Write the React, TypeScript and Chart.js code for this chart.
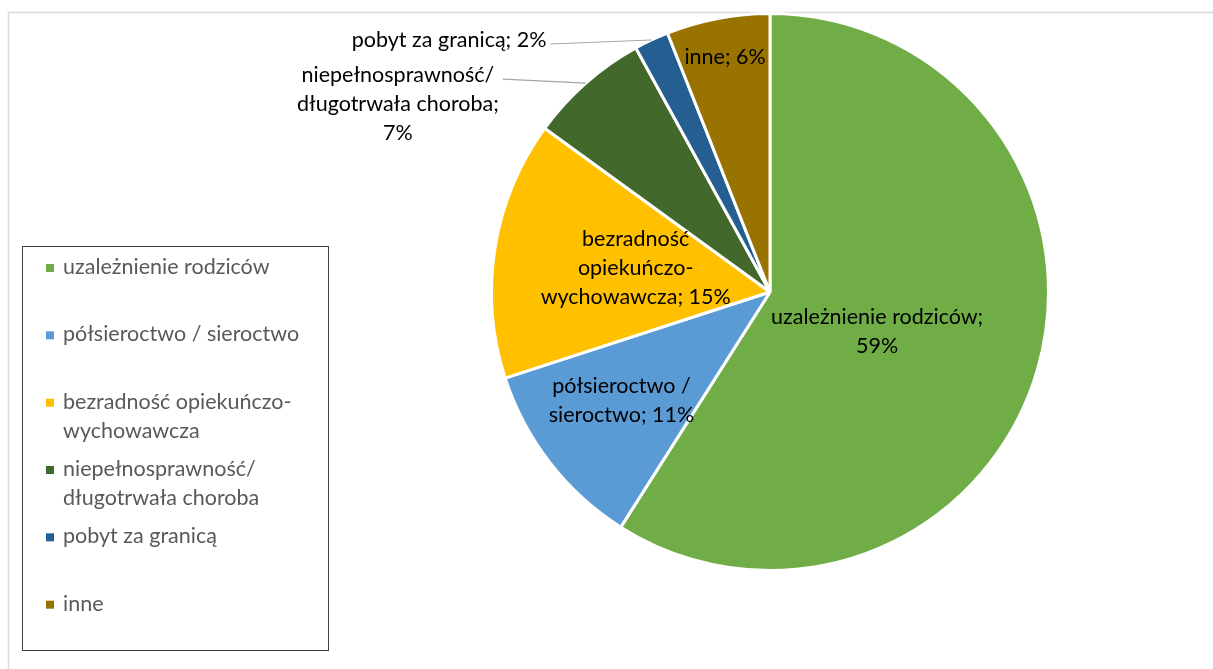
import React, { useEffect, useRef } from "react";
import { Chart, registerables } from "chart.js";

Chart.register(...registerables);

// ---- data ----
const categories = [
  "uzależnienie rodziców",
  "półsieroctwo / sieroctwo",
  "bezradność opiekuńczo-wychowawcza",
  "niepełnosprawność/ długotrwała choroba",
  "pobyt za granicą",
  "inne",
];
const values = [59, 11, 15, 7, 2, 6];
const colors = ["#70AD47", "#5B9BD5", "#FFC000", "#43682B", "#255E91", "#997300"];

// legend text, wrapped as in the reference
const legendLines = [
  ["uzależnienie rodziców"],
  ["półsieroctwo / sieroctwo"],
  ["bezradność opiekuńczo-", "wychowawcza"],
  ["niepełnosprawność/", "długotrwała choroba"],
  ["pobyt za granicą"],
  ["inne"],
];

// data-label text ({v} replaced by the value)
const labelTemplates = [
  ["uzależnienie rodziców;", "{v}%"],
  ["półsieroctwo /", "sieroctwo; {v}%"],
  ["bezradność", "opiekuńczo-", "wychowawcza; {v}%"],
  ["niepełnosprawność/", "długotrwała choroba;", "{v}%"],
  ["pobyt za granicą; {v}%"],
  ["inne; {v}%"],
];

// label placement (styles/positions kept apart from data)
const labelPlacement = [
  { type: "in", frac: 0.41, dAng: 4 },
  { type: "in", frac: 0.66, dAng: 1.7 },
  { type: "in", frac: 0.49, dAng: 1.2 },
  { type: "out", dx: -83, dy: -4 },
  { type: "out", dx: -101, dy: 4 },
  { type: "in", frac: 0.86, dAng: 0 },
];

const FONT = "21.5px Lato";
const LINE_H = 29;

const decorPlugin = {
  id: "decor",
  beforeDraw(chart: any) {
    const ctx = chart.ctx;
    ctx.save();
    ctx.fillStyle = "#ffffff";
    ctx.fillRect(0, 0, chart.width, chart.height);
    ctx.strokeStyle = "#D9D9D9";
    ctx.lineWidth = 1.5;
    ctx.strokeRect(8.5, 12.5, chart.width + 50, chart.height + 50);
    ctx.restore();
  },
  afterDraw(chart: any) {
    const ctx = chart.ctx;
    const meta = chart.getDatasetMeta(0);
    const data = chart.data.datasets[0].data;
    const bg = chart.data.datasets[0].backgroundColor;

    // ---- legend box ----
    ctx.save();
    const box = { x: 22, y: 246, w: 306, h: 404 };
    ctx.strokeStyle = "#404040";
    ctx.lineWidth = 1;
    ctx.strokeRect(box.x + 0.5, box.y + 0.5, box.w, box.h);
    const slot = box.h / legendLines.length;
    ctx.font = FONT;
    ctx.textBaseline = "middle";
    ctx.textAlign = "left";
    legendLines.forEach((lines, i) => {
      const top = box.y + slot * i + 21;
      ctx.fillStyle = bg[i];
      ctx.fillRect(46, top - 3, 8, 8);
      ctx.fillStyle = "#595959";
      lines.forEach((t, j) => ctx.fillText(t, 63, top + j * LINE_H));
    });
    ctx.restore();

    // ---- data labels ----
    ctx.save();
    ctx.font = FONT;
    ctx.textBaseline = "middle";
    meta.data.forEach((arc: any, i: number) => {
      const p = arc.getProps(["x", "y", "startAngle", "endAngle", "outerRadius"], true);
      const lines = labelTemplates[i].map((t) => t.replace("{v}", String(data[i])));
      const pl: any = labelPlacement[i];
      const mid = (p.startAngle + p.endAngle) / 2;
      ctx.fillStyle = "#000000";
      ctx.textAlign = "center";
      if (pl.type === "in") {
        const a = mid + (pl.dAng * Math.PI) / 180;
        const cx = p.x + Math.cos(a) * p.outerRadius * pl.frac;
        const cy = p.y + Math.sin(a) * p.outerRadius * pl.frac;
        const y0 = cy - ((lines.length - 1) * LINE_H) / 2;
        lines.forEach((t, j) => ctx.fillText(t, cx, y0 + j * LINE_H));
      } else {
        const ax = p.x + Math.cos(mid) * p.outerRadius;
        const ay = p.y + Math.sin(mid) * p.outerRadius;
        const ex = ax + pl.dx;
        const ey = ay + pl.dy;
        ctx.strokeStyle = "#A6A6A6";
        ctx.lineWidth = 1.2;
        ctx.beginPath();
        ctx.moveTo(ex, ey);
        ctx.lineTo(ax, ay);
        ctx.stroke();
        const maxW = Math.max(...lines.map((t) => ctx.measureText(t).width));
        const right = ex - 4;
        const cx = right - maxW / 2;
        const y0 = ey - 4;
        lines.forEach((t, j) => ctx.fillText(t, cx, y0 + j * LINE_H));
      }
    });
    ctx.restore();
  },
};

export default function App() {
  const ref = useRef<HTMLCanvasElement | null>(null);
  useEffect(() => {
    if (!ref.current) return;
    const chart = new Chart(ref.current, {
      type: "pie",
      data: {
        labels: categories,
        datasets: [
          {
            data: values,
            backgroundColor: colors,
            borderColor: "#ffffff",
            borderWidth: 3,
          },
        ],
      },
      options: {
        animation: false,
        responsive: false,
        devicePixelRatio: 1,
        events: [],
        layout: { padding: { left: 490, right: 163, top: 12, bottom: 97 } },
        plugins: {
          legend: { display: false },
          tooltip: { enabled: false },
          title: { display: false },
        },
      },
      plugins: [decorPlugin],
    });
    return () => chart.destroy();
  }, []);
  return (
    <div style={{ position: "fixed", left: 0, top: 0, width: 1213, height: 669, background: "#fff" }}>
      <canvas ref={ref} width={1213} height={669} style={{ display: "block" }} />
    </div>
  );
}
